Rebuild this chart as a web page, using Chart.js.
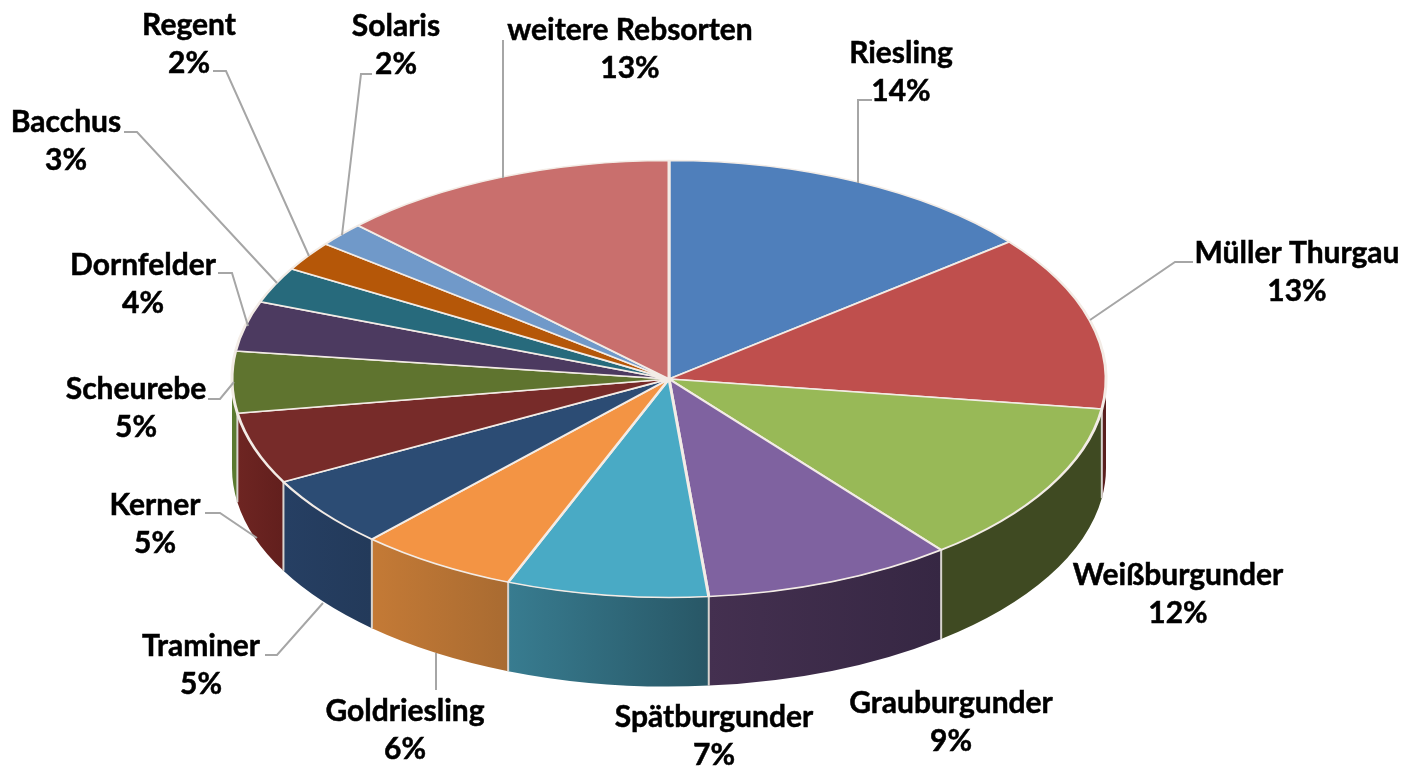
<!DOCTYPE html>
<html>
<head>
<meta charset="utf-8">
<title>Rebsorten</title>
<style>
    html, body { margin: 0; padding: 0; background: #fff; }
    canvas { display: block; }
</style>
<script src="https://cdn.jsdelivr.net/npm/chart.js@4"></script>
</head>
<body>
<canvas id="pieChart" width="1404" height="768"></canvas>
<script>
var categories = ["Riesling", "Müller Thurgau", "Weißburgunder", "Grauburgunder", "Spätburgunder", "Goldriesling", "Traminer", "Kerner", "Scheurebe", "Dornfelder", "Bacchus", "Regent", "Solaris", "weitere Rebsorten"];
var shares = [14.2, 13.0, 12.1, 9.25, 7.45, 5.9, 5.3, 5.3, 4.55, 3.7, 2.65, 2.2, 1.8, 12.6];

var topColors = ["#4f7fbb", "#bf4f4d", "#98b957", "#7f62a0", "#49aac5", "#f39444", "#2c4c74", "#772b29", "#5f742f", "#4c3a60", "#276a7c", "#b55708", "#7099c9", "#c96f6d"];
var wallColorsA = ["#2f4d71", "#5a1f1e", "#3f4a22", "#443050", "#387c90", "#c47a36", "#263f63", "#6e2522", "#5a7a30", "#3a2c4a", "#1d4f5d", "#884106", "#557397", "#964f4e"];
var wallColorsB = ["#2f4d71", "#5a1f1e", "#3f4a22", "#362743", "#285766", "#a96b31", "#233a5a", "#621f1d", "#5a7a30", "#3a2c4a", "#1d4f5d", "#884106", "#557397", "#964f4e"];

// Label centre of the name line, the percent sits one line below
var labelX = [901, 1297, 1178, 951, 714, 405, 201, 155, 136, 143, 66, 189, 396, 630];
var labelY = [53, 253, 575, 703, 717, 711, 646, 505, 389, 265, 122, 25, 26, 30];

// Leader lines as [x, y] points, from the label to the pie edge
var leaders = [
    [[872, 100], [858, 100], [858, 183]],
    [[1193, 262], [1175, 262], [1090, 320]],
    null, null, null,
    [[436, 690], [436, 653]],
    [[265, 655], [277, 655], [323, 603]],
    [[205, 513], [220, 513], [257, 538]],
    [[208, 399], [220, 399], [234, 382]],
    [[218, 273], [232, 273], [248, 326]],
    [[124, 132], [137, 132], [277, 283]],
    [[213, 71], [226, 71], [309, 256]],
    [[372, 74], [361, 74], [342, 235]],
    [[503, 40], [503, 178]]
];

var squash = 0.5;      // the pie lies flat, top surface is an ellipse
var depth = 89;        // height of the side wall
var edgeColor = "#f3ece6";

var tiltPlugin = {
    id: "tilt",
    beforeDatasetsDraw: function (chart) {
        var ctx = chart.ctx;
        var arcs = chart.getDatasetMeta(0).data;
        var cx = arcs[0].x, cy = arcs[0].y, r = arcs[0].outerRadius;
        var ry = r * squash;

        // Side walls, only the front half of the pie shows them
        for (var i = 0; i < arcs.length; i++) {
            var a0 = Math.max(arcs[i].startAngle, 0);
            var a1 = Math.min(arcs[i].endAngle, Math.PI);
            if (a1 <= a0) continue;
            var x0 = cx + r * Math.cos(a0);
            var x1 = cx + r * Math.cos(a1);
            var grad = ctx.createLinearGradient(x1, 0, x0, 0);
            grad.addColorStop(0, wallColorsA[i]);
            grad.addColorStop(1, wallColorsB[i]);
            ctx.beginPath();
            ctx.ellipse(cx, cy, r, ry, 0, a0, a1);
            ctx.ellipse(cx, cy + depth, r, ry, 0, a1, a0, true);
            ctx.closePath();
            ctx.fillStyle = grad;
            ctx.fill();
        }
        // Light dividers between the walls
        ctx.strokeStyle = "#d8d4cf";
        ctx.lineWidth = 2;
        for (var j = 0; j < arcs.length; j++) {
            var a = arcs[j].endAngle;
            if (a <= 0 || a >= Math.PI) continue;
            var x = cx + r * Math.cos(a);
            var y = cy + ry * Math.sin(a);
            ctx.beginPath();
            ctx.moveTo(x, y);
            ctx.lineTo(x, y + depth);
            ctx.stroke();
        }

        // Squash the pie itself
        ctx.save();
        ctx.translate(cx, cy);
        ctx.scale(1, squash);
        ctx.translate(-cx, -cy);
    },
    afterDatasetsDraw: function (chart) {
        chart.ctx.restore();
    },
    afterDraw: function (chart) {
        var ctx = chart.ctx;
        // Leader lines
        ctx.strokeStyle = "#a6a6a6";
        ctx.lineWidth = 2;
        leaders.forEach(function (points) {
            if (!points) return;
            ctx.beginPath();
            points.forEach(function (p, n) {
                if (n == 0) ctx.moveTo(p[0], p[1]);
                else ctx.lineTo(p[0], p[1]);
            });
            ctx.stroke();
        });
        // Labels
        ctx.fillStyle = "#000";
        ctx.strokeStyle = "#000";
        ctx.lineWidth = 0.5;
        ctx.font = "bold 30px Lato";
        ctx.textAlign = "center";
        ctx.textBaseline = "middle";
        for (var i = 0; i < categories.length; i++) {
            var percent = Math.round(shares[i]) + "%";
            ctx.fillText(categories[i], labelX[i], labelY[i]);
            ctx.strokeText(categories[i], labelX[i], labelY[i]);
            ctx.fillText(percent, labelX[i], labelY[i] + 38);
            ctx.strokeText(percent, labelX[i], labelY[i] + 38);
        }
    }
};

var ctxP = document.getElementById("pieChart").getContext("2d");
var myPieChart = new Chart(ctxP, {
    type: "pie",
    data: {
        labels: categories,
        datasets: [{
            data: shares,
            backgroundColor: topColors,
            borderColor: edgeColor,
            borderWidth: 3,
            clip: false
        }]
    },
    options: {
        responsive: false,
        animation: false,
        radius: 437,
        layout: { padding: { left: 0, right: 66, top: 0, bottom: 10 } },
        plugins: {
            legend: { display: false },
            tooltip: { enabled: false }
        }
    },
    plugins: [tiltPlugin]
});
</script>
</body>
</html>
